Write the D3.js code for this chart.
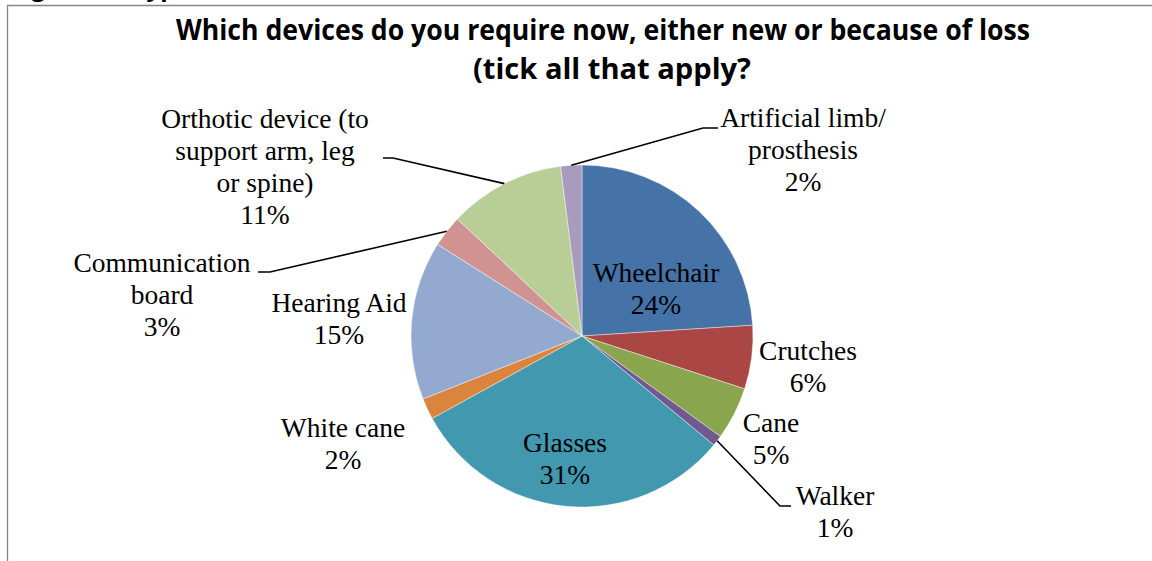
<!DOCTYPE html>
<html>
<head>
<meta charset="utf-8">
<script src="https://cdn.jsdelivr.net/npm/d3@7/dist/d3.min.js"></script>
<style>
  html, body { margin: 0; padding: 0; background: #fff; }
  svg { display: block; }
</style>
</head>
<body>
<svg id="chart" width="1152" height="561"></svg>
<script>
// Survey answers: share of respondents needing each device (percent)
const categories = [
  "Wheelchair", "Crutches", "Cane", "Walker", "Glasses",
  "White cane", "Hearing Aid", "Communication board",
  "Orthotic device (to support arm, leg or spine)", "Artificial limb/ prosthesis"
];
const values = [24, 6, 5, 1, 31, 2, 15, 3, 11, 2];

// Label text broken into lines, as printed next to each slice
const labelLines = [
  ["Wheelchair"], ["Crutches"], ["Cane"], ["Walker"], ["Glasses"],
  ["White cane"], ["Hearing Aid"], ["Communication", "board"],
  ["Orthotic device (to", "support arm, leg", "or spine)"],
  ["Artificial limb/", "prosthesis"]
];

const colors = [
  "#4572A7", "#AA4643", "#89A54E", "#71588F", "#4198AF",
  "#DB843D", "#93A9CF", "#D19392", "#B9CD96", "#A99BBD"
];

const titleLines = [
  "Which devices do you require now, either new or because of loss",
  "(tick all that apply?"
];

// Layout: label block centre x and first baseline y
const labelLayout = [
  { x: 656, y: 282 },
  { x: 808, y: 360 },
  { x: 771, y: 432 },
  { x: 835, y: 505 },
  { x: 565, y: 452 },
  { x: 343, y: 437 },
  { x: 339, y: 312 },
  { x: 162, y: 272 },
  { x: 265, y: 128 },
  { x: 803, y: 127 }
];
// Leader lines: elbow point and end point next to the label (null = no leader)
const leaders = [
  null, null, null,
  { elbow: [780, 506], end: [791, 506] },
  null, null, null,
  { elbow: [270, 272], end: [258, 272] },
  { elbow: [393, 158], end: [383, 158] },
  { elbow: [703, 128], end: [718, 128] }
];

const svg = d3.select("#chart");
const W = 1152, H = 561;

// Chart frame (left and top edges visible)
svg.append("path")
  .attr("d", `M7.5,${H} V5.5 H${W}`)
  .attr("fill", "none")
  .attr("stroke", "#868686")
  .attr("stroke-width", 1.3);

// Caption above the frame, mostly cropped off
svg.append("text")
  .attr("x", 11).attr("y", -4)
  .attr("font-family", "'Open Sans', sans-serif")
  .attr("font-weight", 700)
  .attr("font-size", 24)
  .attr("fill", "#000")
  .text("Figure 12: Types of devices");

// Title
const titleSizes = [
  { cx: 603, y: 40, len: 854 },
  { cx: 612, y: 79, len: 278 }
];
titleLines.forEach((t, i) => {
  svg.append("text")
    .attr("x", titleSizes[i].cx)
    .attr("y", titleSizes[i].y)
    .attr("text-anchor", "middle")
    .attr("font-family", "'Open Sans', sans-serif")
    .attr("font-weight", 700)
    .attr("font-size", 28)
    .attr("textLength", titleSizes[i].len)
    .attr("lengthAdjust", "spacingAndGlyphs")
    .attr("fill", "#000")
    .text(t);
});

// Pie
const cx = 582, cy = 336, radius = 171;
const data = categories.map((c, i) => ({ name: c, value: values[i], i }));

const pie = d3.pie()
  .value(d => d.value)
  .sort(null)
  .startAngle(0)
  .endAngle(2 * Math.PI);

const arcs = pie(data);
const arc = d3.arc().innerRadius(0).outerRadius(radius);

const g = svg.append("g").attr("transform", `translate(${cx},${cy})`);

g.selectAll("path.slice")
  .data(arcs)
  .join("path")
  .attr("class", "slice")
  .attr("d", arc)
  .attr("fill", d => colors[d.data.i])
  .attr("stroke", "#ffffff")
  .attr("stroke-width", 0.6)
  .attr("stroke-opacity", 0.7);

// Leader lines from the slice rim at its mid-angle
arcs.forEach(a => {
  const L = leaders[a.data.i];
  if (!L) return;
  const mid = (a.startAngle + a.endAngle) / 2;
  const sx = cx + radius * Math.sin(mid);
  const sy = cy - radius * Math.cos(mid);
  svg.append("path")
    .attr("d", d3.line()([[sx, sy], L.elbow, L.end]))
    .attr("fill", "none")
    .attr("stroke", "#000")
    .attr("stroke-width", 1.6);
});

// Data labels: category lines followed by the percentage
const lineGap = 32;
arcs.forEach(a => {
  const i = a.data.i;
  const pos = labelLayout[i];
  const lines = labelLines[i].concat([a.data.value + "%"]);
  const t = svg.append("text")
    .attr("text-anchor", "middle")
    .attr("font-family", "'Liberation Serif', 'Times New Roman', serif")
    .attr("font-size", 27.5)
    .attr("fill", "#000");
  lines.forEach((ln, k) => {
    t.append("tspan")
      .attr("x", pos.x)
      .attr("y", pos.y + k * lineGap)
      .text(ln);
  });
});
</script>
</body>
</html>
